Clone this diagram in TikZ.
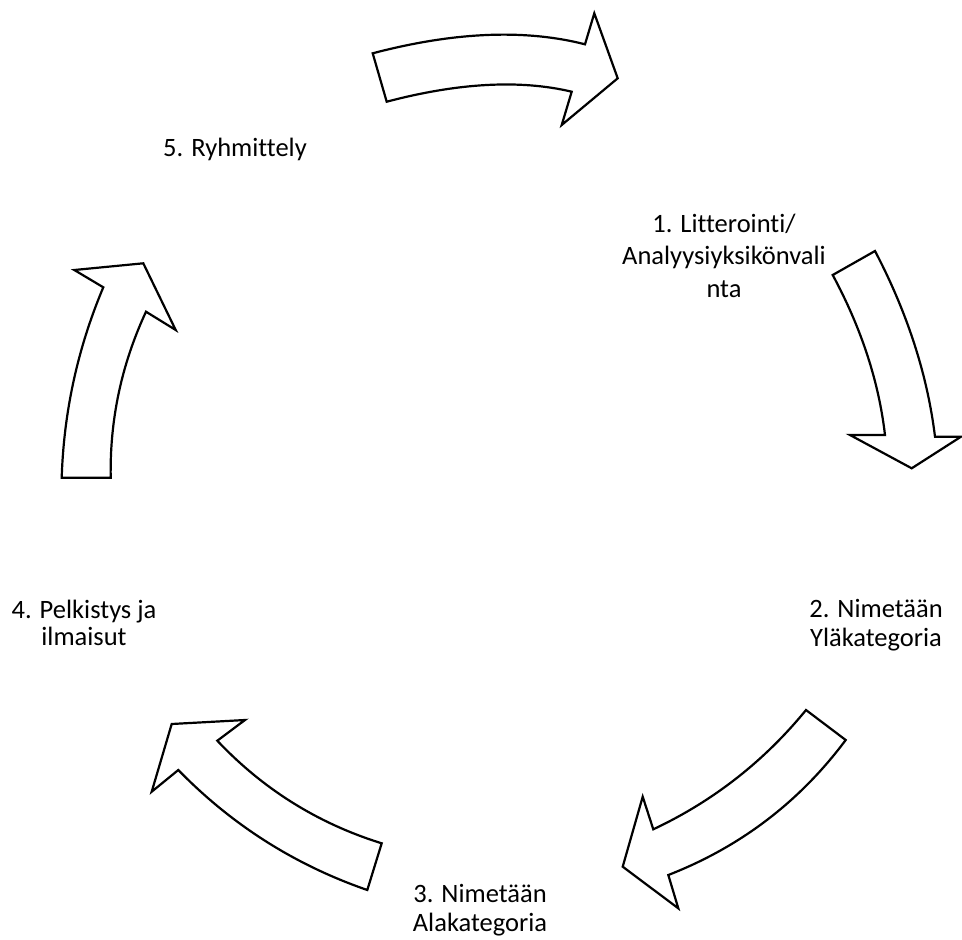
\documentclass[tikz,border=0pt]{standalone}
\usepackage{fontspec}
\setmainfont{Carlito}[Ligatures=NoCommon]
\begin{document}
\begin{tikzpicture}[x=1pt,y=-1pt,
  arrowshape/.style={draw=black,fill=white,line width=2.2pt,line join=miter},
  lbl/.style={align=center,anchor=base,inner sep=0pt,font=\fontsize{26.5}{29}\selectfont}]
\useasboundingbox[fill=white] (0,0) rectangle (962,940);
% arrow 1 (top)
\draw[arrowshape] (372.7,53.3) .. controls (453.9,31.9) and (524.7,28.9) .. (585,44.3)
  -- (594.3,13.3) -- (617.7,78.3) -- (561.7,125) -- (571.7,91.7)
  .. controls (520.0,79.4) and (458.4,82.8) .. (386.7,101.7) -- cycle;
% arrow 2 (right)
\draw[arrowshape] (832.7,275) -- (875,251) .. controls (907.4,312.9) and (927.4,374.8) .. (935,436.7)
  -- (961,436.7) -- (911.7,468.3) -- (850,435) -- (885,435)
  .. controls (878.8,381.7) and (861.4,328.3) .. cycle;
% arrow 3 (bottom right)
\draw[arrowshape] (806,710) -- (845.7,740) .. controls (799.5,801.9) and (740.4,846.9) .. (668.3,875)
  -- (678.3,908.3) -- (622.7,866.7) -- (642.7,796.7) -- (653.3,829.3)
  .. controls (713.2,801.1) and (764.1,761.3) .. cycle;
% arrow 4 (bottom left)
\draw[arrowshape] (381.7,843.3) -- (367.3,890) .. controls (294.8,864.9) and (231.8,824.9) .. (178.3,770)
  -- (151.7,791.7) -- (171.7,724) -- (245,720) -- (217.3,740.7)
  .. controls (263.2,789.3) and (318.0,823.5) .. cycle;
% arrow 5 (left)
\draw[arrowshape] (61.7,477.7) -- (110.7,477.7) .. controls (109.7,419.7) and (121.5,364.4) .. (146,311.7)
  -- (175.7,330) -- (143.3,263.3) -- (74.3,270) -- (103.3,287.3)
  .. controls (77.7,348.2) and (63.8,411.7) .. cycle;
% labels (anchor base = baseline of last line)
\node[lbl] (t5) at (235,156.7) {5. Ryhmittely};
\node[lbl,font=\fontsize{26.5}{32.5}\selectfont] (t1) at (724,297.3) {1. Litterointi/\\Analyysiyksikönvali\\nta};
\node[lbl] (t2) at (876,646.7) {2. Nimetään\\Yläkategoria};
\node[lbl] (t3) at (480,931.8) {3. Nimetään\\Alakategoria};
\node[lbl,font=\fontsize{26.5}{27}\selectfont] (t4) at (84,645.5) {4. Pelkistys ja\\ilmaisut};
\end{tikzpicture}
\end{document}
